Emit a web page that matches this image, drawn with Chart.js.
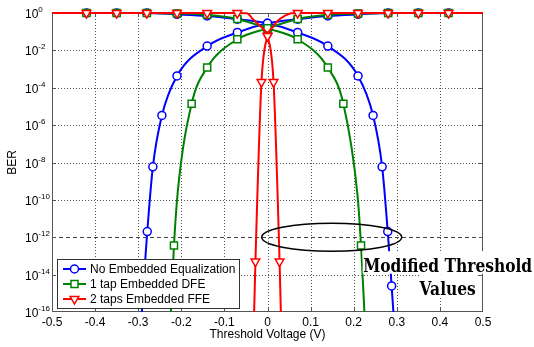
<!DOCTYPE html>
<html>
<head>
<meta charset="utf-8">
<script src="https://cdn.jsdelivr.net/npm/chart.js@4.4.1/dist/chart.umd.min.js"></script>
<style>
  html, body { margin: 0; padding: 0; background: #fff; }
  #wrap { width: 534px; height: 347px; position: relative; }
</style>
</head>
<body>
<div id="wrap"><canvas id="ber"></canvas></div>
<script>
// axes
const xTicks = [-0.5, -0.4, -0.3, -0.2, -0.1, 0, 0.1, 0.2, 0.3, 0.4, 0.5];
const xTickLabels = ['-0.5', '-0.4', '-0.3', '-0.2', '-0.1', '0', '0.1', '0.2', '0.3', '0.4', '0.5'];
const yTicks = [1, 1e-2, 1e-4, 1e-6, 1e-8, 1e-10, 1e-12, 1e-14, 1e-16];
const yTickExps = ['0', '-2', '-4', '-6', '-8', '-10', '-12', '-14', '-16'];
const targetBer = 1e-12;

const seriesNames = ['No Embedded Equalization', '1 tap Embedded DFE', '2 taps Embedded FFE'];

// [threshold V, BER]; "marks" carry markers, "extra" are curve-only points
const blueFallMarks = [[-0.42, 1], [-0.35, 1], [-0.28, 1], [-0.21, 0.85], [-0.14, 0.69], [-0.07, 0.47], [0, 0.28],
  [0.07, 0.091], [0.14, 0.017], [0.21, 4.3e-4], [0.245, 3.3e-6], [0.266, 5.9e-9], [0.279, 2e-12], [0.288, 2.5e-15]];
const blueFallExtra = [[-0.5, 1], [0.295, 1e-17]];
const blueRiseMarks = [[-0.288, 2.5e-15], [-0.279, 2e-12], [-0.266, 5.9e-9], [-0.245, 3.3e-6], [-0.21, 4.3e-4],
  [-0.14, 0.017], [-0.07, 0.091], [0, 0.28], [0.07, 0.47], [0.14, 0.69], [0.21, 0.85], [0.28, 1], [0.35, 1], [0.42, 1]];
const blueRiseExtra = [[-0.294, 1e-17], [0.5, 1]];

const greenFallMarks = [[-0.42, 1], [-0.35, 1], [-0.28, 1], [-0.21, 0.95], [-0.14, 0.8], [-0.07, 0.48], [0, 0.15],
  [0.07, 0.039], [0.14, 1.2e-3], [0.176, 1.4e-5], [0.217, 3.6e-13]];
const greenFallExtra = [[-0.5, 1], [0.209, 1.6e-10], [0.227, 1e-17]];
const greenRiseMarks = [[-0.217, 3.6e-13], [-0.176, 1.4e-5], [-0.14, 1.2e-3], [-0.07, 0.039], [0, 0.15],
  [0.07, 0.48], [0.14, 0.8], [0.21, 0.95], [0.28, 1], [0.35, 1], [0.42, 1]];
const greenRiseExtra = [[-0.226, 1e-17], [-0.208, 3e-10], [0.5, 1]];

const redFallMarks = [[-0.42, 1], [-0.35, 1], [-0.28, 1], [-0.21, 1], [-0.14, 1], [-0.07, 1],
  [0, 0.058], [0.014, 2e-4], [0.028, 5e-14]];
const redFallExtra = [[-0.5, 1], [-0.048, 0.98], [-0.034, 0.48], [-0.022, 0.26], [-0.01, 0.14], [0.031, 1e-16], [0.032, 1e-17]];
const redRiseMarks = [[-0.028, 5e-14], [-0.014, 2e-4], [0, 0.058], [0.07, 1], [0.14, 1], [0.21, 1], [0.28, 1], [0.35, 1], [0.42, 1]];
const redRiseExtra = [[-0.032, 1e-17], [-0.031, 1e-16], [0.012, 0.17], [0.024, 0.39], [0.04, 0.71], [0.055, 0.98], [0.5, 1]];

const noteLines = ['Modified Threshold', 'Values'];

const colors = { blue: '#0000ff', green: '#008000', red: '#ff0000' };
const markers = {
  blue:  { style: 'circle', radius: 4, rotation: 0 },
  green: { style: 'rect', radius: 5, rotation: 0 },
  red:   { style: 'triangle', radius: 5, rotation: 180 },
};
const noClipTop = { left: 0, top: false, right: 0, bottom: 0 };

function toXY(list) {
  return list.map(p => ({ x: p[0], y: p[1] }));
}

function curveSet(marks, extra, color, order) {
  const pts = marks.concat(extra).sort((a, b) => a[0] - b[0]);
  return {
    data: toXY(pts), borderColor: color, borderWidth: 2, pointRadius: 0,
    cubicInterpolationMode: 'monotone', capBezierPoints: false, fill: false, order, clip: noClipTop,
  };
}

function markSet(marks, key, order) {
  const m = markers[key];
  return {
    data: toXY(marks), showLine: false, order, clip: noClipTop,
    pointStyle: m.style, pointRadius: m.radius, pointRotation: m.rotation,
    pointBorderColor: colors[key], pointBackgroundColor: '#fff', pointBorderWidth: 1.5,
  };
}

function drawMarker(ctx, key, x, y) {
  const m = markers[key];
  ctx.save();
  ctx.strokeStyle = colors[key];
  ctx.fillStyle = '#fff';
  ctx.lineWidth = 1.5;
  ctx.beginPath();
  if (m.style === 'circle') {
    ctx.arc(x, y, m.radius, 0, Math.PI * 2);
  } else if (m.style === 'rect') {
    const s = m.radius * Math.SQRT1_2;
    ctx.rect(x - s, y - s, 2 * s, 2 * s);
  } else {
    const r = m.radius;
    ctx.moveTo(x, y + r);
    ctx.lineTo(x - r * 0.866, y - r / 2);
    ctx.lineTo(x + r * 0.866, y - r / 2);
    ctx.closePath();
  }
  ctx.fill();
  ctx.stroke();
  ctx.restore();
}

const decor = {
  id: 'decor',
  beforeDatasetsDraw(chart) {
    const { ctx, chartArea: a, scales: { x, y } } = chart;
    ctx.save();
    ctx.lineWidth = 1;
    ctx.strokeStyle = '#555';
    ctx.setLineDash([1, 2]);
    ctx.beginPath();
    xTicks.slice(1, -1).forEach(v => {
      const px = Math.round(x.getPixelForValue(v)) + 0.5;
      ctx.moveTo(px, a.top); ctx.lineTo(px, a.bottom);
    });
    yTicks.slice(1, -1).forEach(v => {
      if (v === targetBer) return;
      const py = Math.round(y.getPixelForValue(v)) + 0.5;
      ctx.moveTo(a.left, py); ctx.lineTo(a.right, py);
    });
    ctx.stroke();

    // 1e-12 reference line
    ctx.setLineDash([4, 3]);
    ctx.strokeStyle = '#444';
    ctx.beginPath();
    const ty = Math.round(y.getPixelForValue(targetBer)) + 0.5;
    ctx.moveTo(a.left, ty); ctx.lineTo(a.right, ty);
    ctx.stroke();

    // box + inward ticks
    ctx.setLineDash([]);
    ctx.strokeStyle = '#555';
    ctx.strokeRect(a.left + 0.5, a.top + 0.5, a.width - 1, a.height - 1);
    ctx.beginPath();
    xTicks.slice(1, -1).forEach(v => {
      const px = Math.round(x.getPixelForValue(v)) + 0.5;
      ctx.moveTo(px, a.bottom); ctx.lineTo(px, a.bottom - 4);
      ctx.moveTo(px, a.top); ctx.lineTo(px, a.top + 4);
    });
    yTicks.slice(1, -1).forEach(v => {
      const py = Math.round(y.getPixelForValue(v)) + 0.5;
      ctx.moveTo(a.left, py); ctx.lineTo(a.left + 4, py);
      ctx.moveTo(a.right, py); ctx.lineTo(a.right - 4, py);
    });
    ctx.stroke();
    ctx.restore();
  },
  afterDatasetsDraw(chart) {
    const { ctx, chartArea: a, scales: { x, y } } = chart;
    ctx.save();

    // y tick labels 10^n
    ctx.fillStyle = '#000';
    ctx.textAlign = 'left';
    ctx.textBaseline = 'alphabetic';
    yTicks.forEach((v, i) => {
      const py = y.getPixelForValue(v);
      ctx.font = '12px "Liberation Sans", Arial, sans-serif';
      ctx.fillText('10', 25, py + 5);
      const w = ctx.measureText('10').width;
      ctx.font = '8px "Liberation Sans", Arial, sans-serif';
      ctx.fillText(yTickExps[i], 25 + w, py - 1);
    });

    // y title
    ctx.save();
    ctx.translate(13, (a.top + a.bottom) / 2);
    ctx.rotate(-Math.PI / 2);
    ctx.font = '12px "Liberation Sans", Arial, sans-serif';
    ctx.textAlign = 'center';
    ctx.textBaseline = 'middle';
    ctx.fillText('BER', 0, 0);
    ctx.restore();

    // ellipse around the 1e-12 crossings
    ctx.strokeStyle = '#000';
    ctx.lineWidth = 1.5;
    ctx.beginPath();
    ctx.ellipse(x.getPixelForValue(0.149), y.getPixelForValue(targetBer), 70, 14, 0, 0, Math.PI * 2);
    ctx.stroke();

    // note text
    const cx = x.getPixelForValue(0.418);
    const base = y.getPixelForValue(1.35e-14);
    ctx.font = 'bold 19px "DejaVu Serif", serif';
    const w0 = ctx.measureText(noteLines[0]).width;
    const sx = Math.min(1, 169 / w0);
    noteLines.forEach((t, i) => {
      const by = base + i * 23;
      const tw = ctx.measureText(t).width * sx;
      ctx.fillStyle = '#fff';
      ctx.fillRect(cx - tw / 2 - 0.5, by - 21, tw + 1, 22.5);
      ctx.save();
      ctx.translate(cx, by);
      ctx.scale(sx, 1);
      ctx.fillStyle = '#000';
      ctx.textAlign = 'center';
      ctx.textBaseline = 'alphabetic';
      ctx.fillText(t, 0, 0);
      ctx.restore();
    });

    // legend
    const lx = a.left + 5, ly = a.bottom - 53;
    ctx.fillStyle = '#fff';
    ctx.fillRect(lx, ly, 182, 49);
    ctx.strokeStyle = '#333';
    ctx.lineWidth = 1;
    ctx.strokeRect(lx + 0.5, ly + 0.5, 182, 49);
    ['blue', 'green', 'red'].forEach((key, i) => {
      const ry = ly + 10 + i * 15;
      ctx.strokeStyle = colors[key];
      ctx.lineWidth = 2;
      ctx.beginPath();
      ctx.moveTo(lx + 6, ry); ctx.lineTo(lx + 29, ry);
      ctx.stroke();
      drawMarker(ctx, key, lx + 17.5, ry);
      ctx.fillStyle = '#000';
      ctx.font = '12px "Liberation Sans", Arial, sans-serif';
      ctx.textAlign = 'left';
      ctx.textBaseline = 'middle';
      ctx.fillText(seriesNames[i], lx + 33, ry + 0.5);
    });
    ctx.restore();
  }
};

Chart.defaults.font.family = '"Liberation Sans", Arial, sans-serif';
Chart.defaults.font.size = 12;
Chart.defaults.color = '#000';

new Chart(document.getElementById('ber'), {
  type: 'line',
  data: {
    datasets: [
      curveSet(blueFallMarks, blueFallExtra, colors.blue, 6),
      curveSet(blueRiseMarks, blueRiseExtra, colors.blue, 6),
      markSet(blueFallMarks, 'blue', 5),
      markSet(blueRiseMarks, 'blue', 5),
      curveSet(greenFallMarks, greenFallExtra, colors.green, 4),
      curveSet(greenRiseMarks, greenRiseExtra, colors.green, 4),
      markSet(greenFallMarks, 'green', 3),
      markSet(greenRiseMarks, 'green', 3),
      curveSet(redFallMarks, redFallExtra, colors.red, 2),
      curveSet(redRiseMarks, redRiseExtra, colors.red, 2),
      markSet(redFallMarks, 'red', 1),
      markSet(redRiseMarks, 'red', 1),
    ]
  },
  options: {
    responsive: true, maintainAspectRatio: false, animation: false,
    devicePixelRatio: 1, events: [],
    layout: { padding: { top: 13, right: 51, left: 0, bottom: 0 } },
    plugins: { legend: { display: false }, tooltip: { enabled: false } },
    scales: {
      x: {
        type: 'linear', min: -0.5, max: 0.5,
        afterBuildTicks: s => { s.ticks = xTicks.map(v => ({ value: v })); },
        ticks: { callback: (v, i) => xTickLabels[i], color: '#000', padding: 3, maxRotation: 0, autoSkip: false },
        grid: { display: false, drawTicks: false },
        border: { display: false },
        title: { display: true, text: 'Threshold Voltage (V)', color: '#000', padding: { top: 0, bottom: 5 } },
        afterFit: s => { s.height = 35; }
      },
      y: {
        type: 'logarithmic', min: 1e-16, max: 1,
        afterBuildTicks: s => { s.ticks = yTicks.map(v => ({ value: v })); },
        ticks: { display: false },
        grid: { display: false, drawTicks: false },
        border: { display: false },
        afterFit: s => { s.width = 52; }
      }
    }
  },
  plugins: [decor]
});
</script>
</body>
</html>
